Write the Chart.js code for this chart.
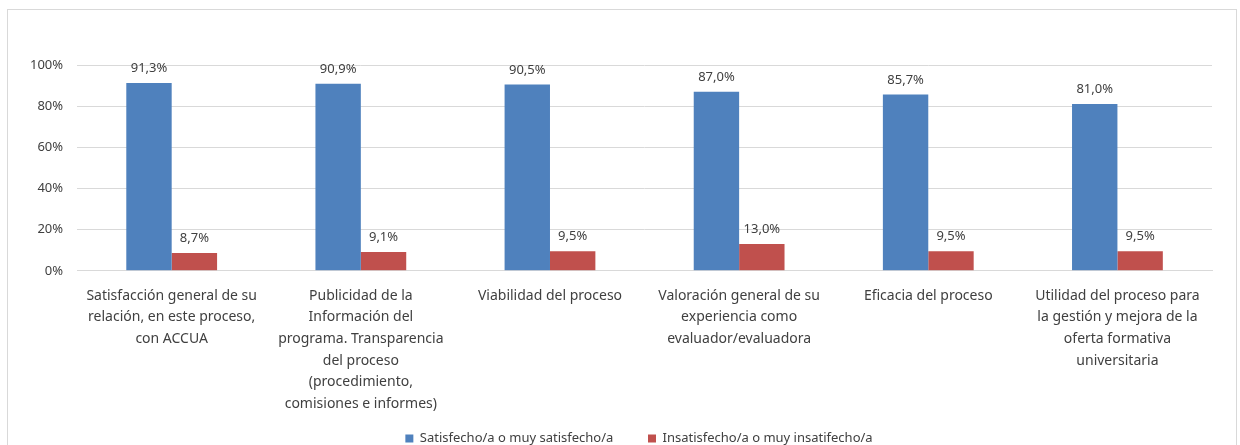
<!DOCTYPE html>
<html>
<head>
<meta charset="utf-8">
<script src="https://cdn.jsdelivr.net/npm/chart.js@4"></script>
<style>
  html, body { margin: 0; padding: 0; background: #fff; overflow: hidden; }
  #frame { position: absolute; left: 7px; top: 9px; width: 1230px; height: 460px; border: 1px solid #d9d9d9; box-sizing: border-box; }
  #wrap { position: absolute; left: 0; top: 0; width: 1240px; height: 455px; }
</style>
</head>
<body>
<div id="frame"></div>
<div id="wrap"><canvas id="myChart"></canvas></div>
<script>
const categories = [
  ['Satisfacción general de su', 'relación, en este proceso,', 'con ACCUA'],
  ['Publicidad de la', 'Información del', 'programa. Transparencia', 'del proceso', '(procedimiento,', 'comisiones e informes)'],
  ['Viabilidad del proceso'],
  ['Valoración general de su', 'experiencia como', 'evaluador/evaluadora'],
  ['Eficacia del proceso'],
  ['Utilidad del proceso para', 'la gestión y mejora de la', 'oferta formativa', 'universitaria']
];
const satisfechos = [91.3, 90.9, 90.5, 87.0, 85.7, 81.0];
const insatisfechos = [8.7, 9.1, 9.5, 13.0, 9.5, 9.5];
const seriesNames = ['Satisfecho/a o muy satisfecho/a', 'Insatisfecho/a o muy insatifecho/a'];
const yTicks = [0, 20, 40, 60, 80, 100];

const textColor = '#404040';
const fontFamily = '"Noto Sans", "Open Sans", sans-serif';

// simple value labels above each bar, legend nudged to the right
const barLabels = {
  id: 'barLabels',
  afterLayout(chart) {
    chart.legend.left += 25;
    chart.legend.right += 25;
  },
  afterDatasetsDraw(chart) {
    const c = chart.ctx;
    c.save();
    c.fillStyle = textColor;
    c.font = '13px ' + fontFamily;
    c.textAlign = 'center';
    c.textBaseline = 'bottom';
    chart.data.datasets.forEach((ds, i) => {
      chart.getDatasetMeta(i).data.forEach((bar, j) => {
        c.fillText(ds.data[j].toFixed(1).replace('.', ',') + '%', bar.x, bar.y - 8);
      });
    });
    c.restore();
  }
};

const ctx = document.querySelector('#myChart');

const graphData = {
  type: 'bar',
  data: {
    labels: categories,
    datasets: [{
      label: seriesNames[0],
      data: satisfechos,
      backgroundColor: '#4F81BD'
    }, {
      label: seriesNames[1],
      data: insatisfechos,
      backgroundColor: '#C0504D'
    }]
  },
  options: {
    responsive: true,
    maintainAspectRatio: false,
    animation: false,
    layout: { padding: { top: 65, left: 16, right: 28, bottom: 0 } },
    datasets: { bar: { categoryPercentage: 0.48, barPercentage: 1 } },
    scales: {
      x: {
        grid: { display: false },
        border: { color: '#d9d9d9' },
        ticks: { color: textColor, font: { family: fontFamily, size: 14, lineHeight: 1.55 }, maxRotation: 0, autoSkip: false, padding: 6 }
      },
      y: {
        min: 0,
        max: 100,
        afterBuildTicks(axis) { axis.ticks = yTicks.map(v => ({ value: v })); },
        grid: { color: '#d9d9d9', drawTicks: false },
        border: { display: false },
        ticks: { color: textColor, font: { family: fontFamily, size: 13 }, padding: 14, callback: v => v + '%' }
      }
    },
    plugins: {
      tooltip: { enabled: false },
      legend: {
        position: 'bottom',
        labels: {
          color: textColor, font: { family: fontFamily, size: 13 }, boxWidth: 8, boxHeight: 8, padding: 11,
          // wider gap between the two entries
          generateLabels(chart) {
            const items = Chart.defaults.plugins.legend.labels.generateLabels(chart);
            items[0].text = items[0].text + '       ';
            return items;
          }
        }
      }
    }
  },
  plugins: [barLabels]
};

const myChart = new Chart(ctx, graphData);
</script>
</body>
</html>
